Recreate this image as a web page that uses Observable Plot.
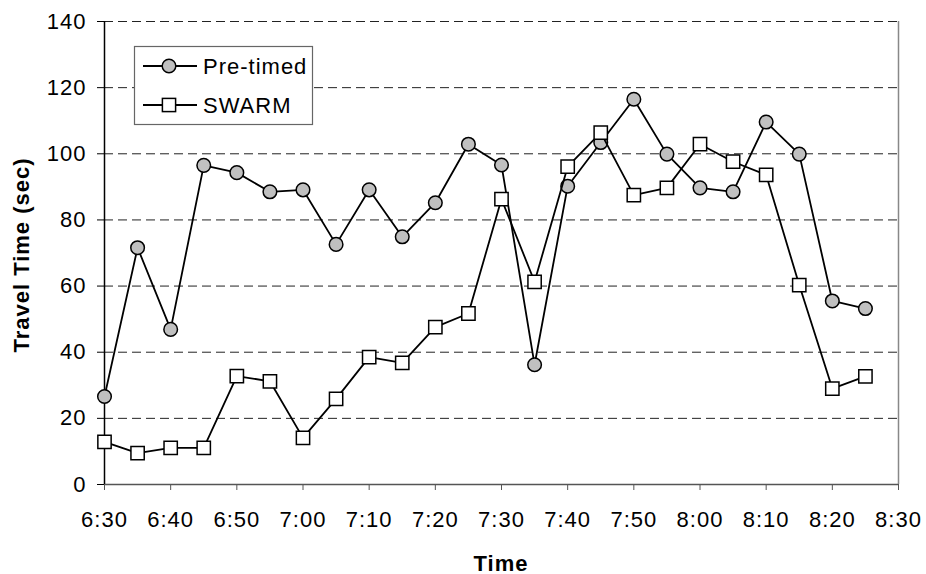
<!DOCTYPE html>
<html>
<head>
<meta charset="utf-8">
<script src="https://cdn.jsdelivr.net/npm/d3@7"></script>
<script src="https://cdn.jsdelivr.net/npm/@observablehq/plot@0.6"></script>
<style>
  html, body { margin: 0; padding: 0; background: white; }
  #chart { width: 926px; height: 574px; }
</style>
</head>
<body>
<div id="chart"></div>
<script>
const times = ["6:30","6:35","6:40","6:45","6:50","6:55","7:00","7:05","7:10","7:15","7:20","7:25",
               "7:30","7:35","7:40","7:45","7:50","7:55","8:00","8:05","8:10","8:15","8:20","8:25"];
const preTimed = [26.6, 71.6, 46.9, 96.5, 94.3, 88.5, 89.1, 72.6, 89.1, 74.9, 85.2, 102.9,
                  96.6, 36.2, 90.2, 103.4, 116.5, 99.9, 89.7, 88.5, 109.6, 99.9, 55.5, 53.2];
const swarm = [12.9, 9.5, 11.1, 11.1, 32.8, 31.2, 14.1, 25.9, 38.5, 36.8, 47.6, 51.7,
               86.3, 61.3, 96.1, 106.4, 87.5, 89.7, 102.9, 97.6, 93.6, 60.3, 29.0, 32.7];
const xTickLabels = ["6:30","6:40","6:50","7:00","7:10","7:20","7:30","7:40","7:50","8:00","8:10","8:20","8:30"];
const yTicks = [0, 20, 40, 60, 80, 100, 120, 140];
const seriesNames = ["Pre-timed", "SWARM"];
const xTitle = "Time";
const yTitle = "Travel Time (sec)";

const toMin = s => { const [h, m] = s.split(":").map(Number); return h * 60 + m; };
const fmt = m => `${Math.floor(m / 60)}:${String(m % 60).padStart(2, "0")}`;

const preData = times.map((t, i) => ({x: toMin(t), y: preTimed[i]}));
const swarmData = times.map((t, i) => ({x: toMin(t), y: swarm[i]}));
const xTicks = xTickLabels.map(toMin);
const xDomain = [xTicks[0], xTicks[xTicks.length - 1]];

const svg = Plot.plot({
  width: 926,
  height: 574,
  marginLeft: 104,
  marginRight: 28,
  marginTop: 21,
  marginBottom: 90,
  style: "font-family: 'Liberation Sans', Arial, sans-serif; font-size: 22px; letter-spacing: 1px; background: white; color: black;",
  x: {domain: xDomain},
  y: {domain: [0, 140]},
  marks: [
    Plot.gridY(yTicks.filter(d => d > 0), {stroke: "#222", strokeOpacity: 1, strokeDasharray: "9,5", strokeWidth: 1}),
    Plot.ruleX([xDomain[1]], {stroke: "#888", strokeWidth: 1.5}),
    Plot.axisY({ticks: yTicks, tickSize: 7, tickPadding: 11, label: null, stroke: "#000"}),
    Plot.axisX({ticks: xTicks, tickFormat: fmt, tickSize: 6, tickPadding: 21, label: null, stroke: "#555"}),
    Plot.ruleY([0], {stroke: "#555", strokeWidth: 1.5}),
    Plot.ruleX([xDomain[0]], {stroke: "#000", strokeWidth: 1.5}),
    Plot.line(preData, {x: "x", y: "y", stroke: "#000", strokeWidth: 1.8}),
    Plot.dot(preData, {x: "x", y: "y", r: 6.8, fill: "#c0c0c0", stroke: "#000", strokeWidth: 1.5}),
    Plot.line(swarmData, {x: "x", y: "y", stroke: "#000", strokeWidth: 1.8}),
    Plot.dot(swarmData, {x: "x", y: "y", symbol: "square", r: 7.5, fill: "#fff", stroke: "#000", strokeWidth: 1.5})
  ]
});

const s = d3.select(svg);
// Axis titles
s.append("text")
  .attr("x", 501).attr("y", 563)
  .attr("text-anchor", "middle").attr("dominant-baseline", "central")
  .attr("font-weight", "bold").attr("font-size", 22)
  .text(xTitle);
s.append("text")
  .attr("transform", "translate(21,255) rotate(-90)")
  .attr("text-anchor", "middle").attr("dominant-baseline", "central")
  .attr("font-weight", "bold").attr("font-size", 22)
  .text(yTitle);

// Legend
const lg = s.append("g");
lg.append("rect").attr("x", 134.5).attr("y", 46.5).attr("width", 178).attr("height", 78)
  .attr("fill", "white").attr("stroke", "#666").attr("stroke-width", 1.2);
const rows = [66, 105];
seriesNames.forEach((name, i) => {
  const y = rows[i];
  lg.append("line").attr("x1", 143).attr("x2", 197).attr("y1", y).attr("y2", y)
    .attr("stroke", "#000").attr("stroke-width", 1.8);
  if (i === 0) {
    lg.append("circle").attr("cx", 169).attr("cy", y).attr("r", 6.8)
      .attr("fill", "#c0c0c0").attr("stroke", "#000").attr("stroke-width", 1.5);
  } else {
    lg.append("rect").attr("x", 169 - 6.6).attr("y", y - 6.6).attr("width", 13.2).attr("height", 13.2)
      .attr("fill", "#fff").attr("stroke", "#000").attr("stroke-width", 1.5);
  }
  lg.append("text").attr("x", 203).attr("y", y).attr("dominant-baseline", "central")
    .attr("text-anchor", "start").text(name);
});

document.getElementById("chart").appendChild(svg);
</script>
</body>
</html>
